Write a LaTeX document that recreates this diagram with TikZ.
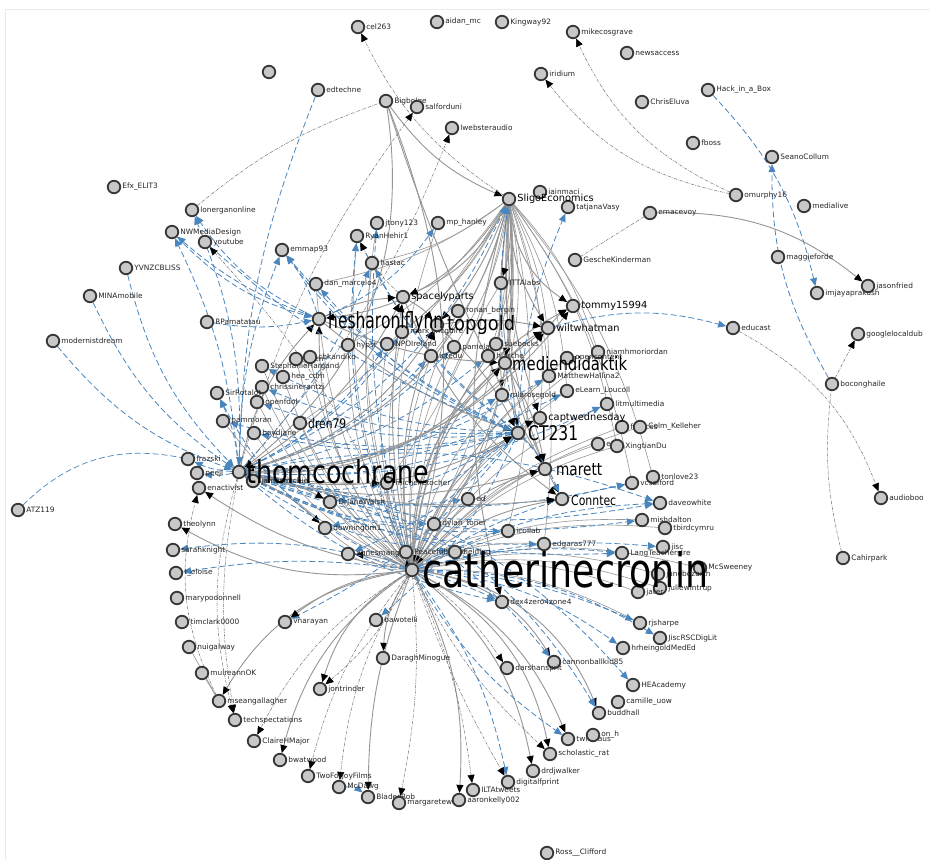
\documentclass[tikz,border=0pt]{standalone}
\usepackage{fontspec}
\setmainfont{DejaVu Sans}
\usepackage{graphicx}
\usetikzlibrary{arrows.meta}
\pgfdeclarelayer{bg}
\pgfsetlayers{bg,main}
\definecolor{eblue}{RGB}{74,134,190}
\definecolor{egray}{RGB}{150,150,150}
\definecolor{ndfill}{RGB}{200,200,200}
\definecolor{ndline}{RGB}{55,55,55}
\tikzset{
 nd/.style={circle, fill=ndfill, draw=ndline, line width=1.8pt, minimum size=12.5pt, inner sep=0pt},
 lab/.style={font=\fontsize{7.4}{8}\selectfont, text=black!85, inner sep=0.5pt, anchor=west},
 mlab/.style={font=\fontsize{9.8}{10}\selectfont, text=black, inner sep=0.5pt, anchor=west},
 big/.style={anchor=base west, inner sep=0pt, text=black},
 ge/.style={draw=egray, line width=0.9pt},
 gt/.style={draw=egray, line width=0.6pt},
 gea/.style={draw=egray, line width=0.9pt, -{Triangle[length=8pt,width=7pt,color=black]}},
 be/.style={draw=eblue, line width=0.8pt, dash pattern=on 6pt off 3pt, -{Triangle[length=8pt,width=7pt,color=eblue]}},
 ben/.style={draw=eblue, line width=0.7pt, dash pattern=on 6pt off 3pt},
 de/.style={draw=black!55, line width=0.5pt, dash pattern=on 3pt off 1.2pt on 0.6pt off 1.2pt, -{Triangle[length=8pt,width=7pt,color=black]}},
 den/.style={draw=black!55, line width=0.5pt, dash pattern=on 3pt off 1.2pt on 0.6pt off 1.2pt},
}
\begin{document}
\begin{tikzpicture}[x=1pt,y=-1pt]
\useasboundingbox (0,0) rectangle (930,860);
% small-label nodes
\foreach \i/\x/\y/\lbl in {
cel/358/27/cel263, aidan/437/22/aidan\_mc, king/502/22/Kingway92, mike/573/32/mikecosgrave,
news/627/53/newsaccess, edte/318/90/edtechne, irid/541/74/iridium, hack/708/90/Hack\_in\_a\_Box,
chris/642/102/ChrisEluva, bigb/386/101/Bigbolge, salf/417/107/salforduni, lweb/452/128/lwebsteraudio,
fboss/693/143/fboss, seano/772/157/SeanoCollum, omur/736/195/omurphy16, medl/804/206/medialive,
efx/114/187/Efx\_ELIT3, loner/192/210/lonerganonline, nwm/172/232/NWMediaDesign, yt/205/242/youtube,
emma/282/250/emmap93, yvnz/126/268/YVNZCBLISS, mina/90/296/MINAmobile, rpam/207/322/RPamatatau,
mode/53/341/modernistdream, iain/540/192/iainmaci, tatj/568/207/tatjanaVasy, emac/650/213/emacevoy,
jtony/377/223/jtony123, mph/438/223/mp\_hanley, ryan/357/236/RyanHehir1, hast/372/263/hastac,
gesc/575/260/GescheKinderman, magg/778/257/maggieforde, imja/817/293/imjayaprakash, jaso/868/286/jasonfried,
dan/316/284/dan\_marcelo4, itta/501/283/ITTAlabs, rona/458/311/ronan\_bergin, educ/733/328/educast,
goog/858/334/googlelocaldub, mark/402/332/mark\_mcguire, hyps/348/345/hypst, npo/387/344/NPOIreland,
pame/454/347/pamelaaoc, sueb/496/344/suebecks, hjar/488/356/hjarche, icte/431/356/ictedu,
niam/598/352/niamhmoriordan, opnc/567/358/opencontent, scien/296/359/scien, cbk/310/357/cbkandiko,
steph/262/366/StephanieHargand, hea/283/377/hea\_cdm, chri/262/387/chrissinerantzi, openf/257/402/openfdol,
sirr/217/393/SirRotalot, matt/549/376/MatthewHallina2, elea/567/391/eLearn\_Loucoll, mlar/502/395/mlarosegold,
litm/607/404/litmultimedia, pamm/223/421/pammoran, boyd/254/433/boydjane, fran/622/427/frances,
colm/640/427/Colm\_Kelleher, evel/598/444/evel, xing/617/446/XingtianDu, tonl/653/477/tonlove23,
vcsa/632/483/vcsalford, fraz/188/459/frazski, peej/197/473/peeji, enac/199/488/enactivist,
jame/253/481/jamesmichie, mich/387/483/michelletocher, dave/660/503/daveowhite, atz/18/510/ATZ119,
drja/330/502/DrJaneWalsh, ed/468/499/ed, mish/642/520/mishdalton, tbir/665/528/tbirdcymru,
down/325/528/downingtim1, dyla/434/524/dylan\_toner, icol/508/531/icollab, theo/175/524/theolynn,
edga/544/544/edgaras777, jisc/663/547/jisc, lang/622/553/LangTeachersIre, sara/173/550/sarahknight,
agne/348/554/agnesmangan, peac/406/552/PeacefulSmile, fiel/455/552/fielding, mcsw/700/568/McSweeney,
janb/658/574/janebozarth, tel/176/573/t\_eloise, dex/502/602/dex4zero4zone4, juli/660/588/juliewintrup,
jate/638/592/jater, mary/177/598/marypodonnell, vnar/285/622/vnarayan, bawo/376/620/bawotelli,
timc/182/622/timclark0000, rjsh/640/623/rjsharpe, jrsc/660/638/JiscRSCDigLit, hrhe/623/648/hrheingoldMedEd,
nuig/189/647/nuigalway, cann/554/662/cannonballkid85, dara/383/658/DaraghMinogue, dars/507/668/darshansprit,
heac/633/685/HEAcademy, muir/202/673/muireannOK, jont/320/689/jontrinder, cami/618/702/camille\_uow,
budd/599/713/buddhall, msea/219/701/mseangallagher, tech/235/720/techspectations, twit/568/739/twitthaus,
onh/593/735/on\_h, clai/254/741/ClaireHMajor, scho/550/754/scholastic\_rat, bwat/280/760/bwatwood,
drdj/533/771/drdjwalker, twof/308/776/TwoForJoyFilms, digi/508/782/digitalfprint, mcda/339/787/McDawg,
blad/368/797/BladesRob, marg/399/803/margaretewa, aaro/459/800/aaronkelly002, ilta/473/790/ILTAtweets,
ross/547/853/Ross\_\_Clifford, cahi/843/558/Cahirpark, audi/881/498/audioboo, boco/832/384/boconghaile}
{\node[nd] (\i) at (\x,\y) {}; \node[lab] at ([xshift=0.5pt]\i.east) {\lbl};}
% medium-label nodes
\foreach \i/\x/\y/\lbl in {se/509/199/SligoEconomics, sp/403/297/spacelyparts, tm/573/306/tommy15994,
 ww/548/328/wiltwhatman, capt/540/418/captwednesday}
{\node[nd] (\i) at (\x,\y) {}; \node[mlab] at ([xshift=0.5pt]\i.east) {\lbl};}
% hub circles
\foreach \i/\x/\y in {cc/412/570, tc/239/472, sf/319/319, tg/437/325, md/505/363, ct/518/433,
 ma/545/469, cn/562/499, dren/300/423, un/269/72}
{\node[nd] (\i) at (\x,\y) {};}

\begin{pgfonlayer}{bg}
\fill[white] (0,0) rectangle (930,860);
\draw[black!8, line width=0.6pt] (5,860) -- (5,9) -- (930,9);
% dense centre: thin gray
\foreach \n in {hast,dan,ryan,jtony,mph,hyps,npo,icte,hjar,pame,mark,rona,itta,mlar,matt,elea,litm,capt,
 dren,boyd,pamm,openf,chri,hea,steph,mich,drja,down,dyla,ed,icol,edga,agne,peac,fiel,sueb,opnc,niam,
 fran,colm,evel,xing,mish,tbir,jate,juli,rjsh,janb,mcsw,cbk,scien}
 {\draw[gt] (cc) to[bend left=14] (\n);}
\foreach \n in {hast,dan,hyps,npo,icte,hjar,pame,mark,mlar,matt,elea,capt,dren,mich,dyla,ed,icol,edga,sueb,niam,xing,vcsa,tonl}
 {\draw[gt] (se) to[bend left=12] (\n);}
\foreach \n in {npo,icte,hjar,pame,mark,mlar,matt,elea,litm,capt,mich,dyla,ed,icol,edga,fiel,dex,vcsa,dave,mish,lang}
 {\draw[be] (tc) to[bend right=14] (\n);}
\foreach \n in {hast,ryan,dan,emma,steph,chri,openf,boyd,pamm,drja,down,agne,bawo,vnar}
 {\draw[be] (ct) to[bend left=12] (\n);}
% hub arcs
\foreach \a/\b/\c in {se/tc/30, se/cc/20, se/ct/-5, se/ma/-12, se/cn/-18, se/md/5, se/tm/-25, se/ww/-15,
 se/sf/25, se/tg/10, se/sp/20, se/mlar/-5, se/itta/10, se/capt/-10, se/dex/-15, bigb/se/-15, bigb/tc/30,
 bigb/cc/18, bigb/ma/-5, tc/ct/-20, tc/md/-25, tc/tg/-20, tc/ma/-15, tc/cn/-10, tc/ww/-25, tc/sf/15,
 tc/tm/-25, tc/sp/-15, cc/ct/20, cc/md/25, cc/tg/15, cc/sf/20, cc/ma/20, cc/cn/15, cc/ww/25, cc/tm/30,
 cc/sp/10, sf/ct/-10, sf/md/-10, tg/ct/10, md/ma/10, sp/cn/-15, sf/sp/10, tg/ww/10, sp/tg/10, ct/ma/10,
 cc/jont/-20, cc/dara/-15, cc/twit/20, cc/scho/25, cc/drdj/20, cc/aaro/15, cc/blad/-10, cc/bwat/-20,
 cc/msea/-25, cc/theo/18, cc/enac/12, cc/cann/25, cc/budd/30, cc/vnar/-15, tc/jame/10, emac/jaso/20,
 tc/mich/-5, tc/drja/10, tc/down/10, ct/capt/10, ww/tm/10, md/ww/10, cc/peac/10, cc/agne/-10}
 {\draw[gea] (\a) to[bend left=\c] (\b);}
% blue dashed
\foreach \a/\b/\c in {mode/tc/-15, mina/tc/-15, yvnz/tc/-15, edte/tc/-10, rpam/sf/-10, nwm/sf/-15, yt/ct/-10,
 tc/nwm/-10, tc/loner/-12, tc/emma/10, tc/sirr/-10, sf/nwm/10, sf/loner/15, sf/emma/-10, ct/emma/15,
 cc/sirr/20, ct/tatj/10, tc/se/-20, cc/jtony/10, sf/mph/-15, cc/ryan/15, tc/hast/-10, cc/sara/-12,
 cc/tel/-8, cc/digi/12, cc/hrhe/15, cc/lang/10, cc/jisc/10, cc/dave/12, cc/vcsa/10, tc/budd/25, cc/dex/5,
 mcda/blad/20, tc/cann/20, ct/cn/10, tc/dave/15, ww/educ/15, boco/seano/15, hack/imja/15, ct/se/10,
 tc/fraz/10, tc/peej/10, cc/rjsh/10, cc/jrsc/15, tc/heac/20, cc/twit/-12}
 {\draw[be] (\a) to[bend left=\c] (\b);}
\draw[ben] (atz) to[bend left=28] (fraz);
% dash-dot
\foreach \a/\b/\c in {se/cel/15, omur/mike/20, omur/irid/20, educ/audi/20, boco/goog/0, tc/salf/10,
 tc/lweb/-10, cc/yt/-10, msea/enac/20, tc/tech/-15, cc/marg/8, cc/ilta/8, cc/mcda/-12, cc/dars/10,
 cc/twof/-12, cc/jont/12, sp/ryan/10, cc/clai/-15, tc/tech/-10, cc/digi/-5, cc/scho/-10}
 {\draw[de] (\a) to[bend left=\c] (\b);}
\draw[den] (cahi) to[bend left=10] (boco);
\draw[den] (emac) -- (gesc);
\draw[den] (loner) to[bend left=10] (bigb);
\draw[gt] (nuig) -- (msea);
\draw[gt] (muir) -- (msea);
\end{pgfonlayer}

% big labels
\node[big] at (422,587) {\resizebox{286pt}{36pt}{catherinecronin}};
\node[big] at (246,483) {\resizebox{183pt}{24pt}{thomcochrane}};
\node[big] at (328,328) {\resizebox{115pt}{17pt}{hesharonlflynn}};
\node[big] at (447,330) {\resizebox{68pt}{15pt}{topgold}};
\node[big] at (512,370) {\resizebox{115pt}{14pt}{mediendidaktik}};
\node[big] at (528,440) {\resizebox{50pt}{15pt}{CT231}};
\node[big] at (556,475) {\resizebox{46pt}{12pt}{marett}};
\node[big] at (571,505) {\resizebox{45pt}{10pt}{Conntec}};
\node[big] at (308,428) {\resizebox{38pt}{10pt}{dren79}};
\end{tikzpicture}
\end{document}
